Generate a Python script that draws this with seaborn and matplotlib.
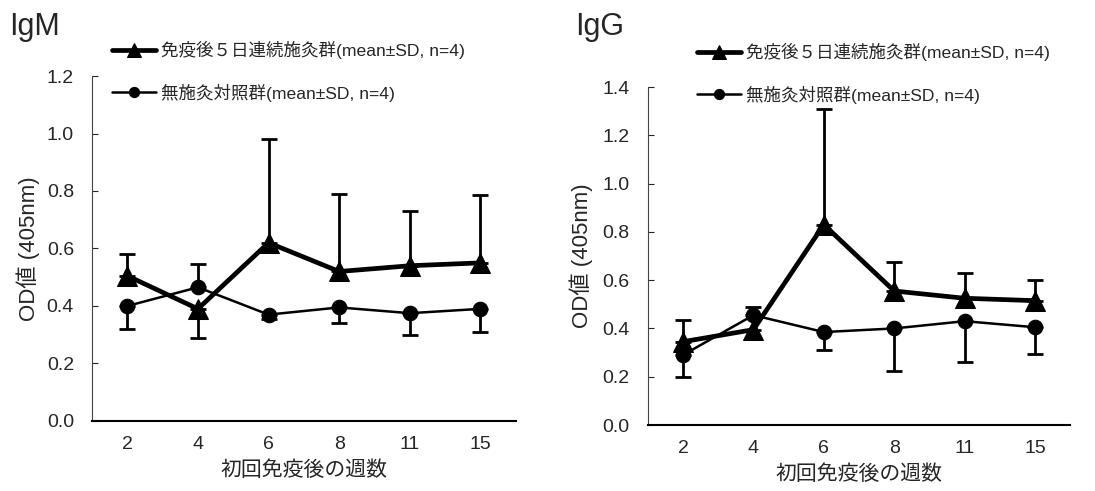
import matplotlib
matplotlib.use("Agg")
import matplotlib.pyplot as plt
import seaborn as sns
import numpy as np
import pandas as pd

sns.set_theme(style="white")
plt.rcParams['font.family'] = ['Liberation Sans', 'Noto Sans CJK JP', 'DejaVu Sans']

weeks = ["2", "4", "6", "8", "11", "15"]
label_treat = "免疫後５日連続施灸群(mean±SD, n=4)"
label_ctrl = "無施灸対照群(mean±SD, n=4)"

igm_treat_mean = [0.505, 0.39, 0.62, 0.52, 0.54, 0.55]
igm_treat_sd = [0.075, 0.10, 0.36, 0.27, 0.19, 0.235]
igm_treat_dir = [1, -1, 1, 1, 1, 1]
igm_ctrl_mean = [0.40, 0.465, 0.37, 0.395, 0.375, 0.39]
igm_ctrl_sd = [0.08, 0.08, 0.015, 0.055, 0.075, 0.08]
igm_ctrl_dir = [-1, 1, -1, -1, -1, -1]

igg_treat_mean = [0.345, 0.395, 0.83, 0.555, 0.525, 0.515]
igg_treat_sd = [0.09, 0.04, 0.48, 0.12, 0.105, 0.085]
igg_treat_dir = [1, -1, 1, 1, 1, 1]
igg_ctrl_mean = [0.29, 0.455, 0.385, 0.40, 0.43, 0.405]
igg_ctrl_sd = [0.09, 0.035, 0.075, 0.175, 0.17, 0.11]
igg_ctrl_dir = [-1, 1, -1, -1, -1, -1]

fig = plt.figure(figsize=(10.95, 4.91), dpi=100)

panels = [
    dict(title="IgM", rect=[0.084, 0.1426, 0.387, 0.7026], ymax=1.2,
         tm=igm_treat_mean, ts=igm_treat_sd, td=igm_treat_dir,
         cm=igm_ctrl_mean, cs=igm_ctrl_sd, cd=igm_ctrl_dir,
         title_xy=(9 / 1095, 1 - 35 / 491), leg_xy=(112 / 1095, 1 - 41 / 491),
         ylab_x=-0.123),
    dict(title="IgG", rect=[0.5916, 0.1344, 0.3858, 0.6884], ymax=1.4,
         tm=igg_treat_mean, ts=igg_treat_sd, td=igg_treat_dir,
         cm=igg_ctrl_mean, cs=igg_ctrl_sd, cd=igg_ctrl_dir,
         title_xy=(575 / 1095, 1 - 35 / 491), leg_xy=(697 / 1095, 1 - 43 / 491),
         ylab_x=-0.130),
]

pos = np.arange(len(weeks))

for p in panels:
    ax = fig.add_axes(p["rect"])
    df = pd.DataFrame({"pos": pos, "treat": p["tm"], "ctrl": p["cm"]})

    for col, sd, d in [("treat", p["ts"], p["td"]), ("ctrl", p["cs"], p["cd"])]:
        sd = np.array(sd)
        d = np.array(d)
        lower = np.where(d < 0, sd, 0)
        upper = np.where(d > 0, sd, 0)
        ax.errorbar(df["pos"], df[col], yerr=[lower, upper], fmt="none",
                    ecolor="black", elinewidth=2.0, capsize=6, capthick=2.0, zorder=2)

    sns.lineplot(data=df, x="pos", y="treat", ax=ax, color="black", linewidth=3.4,
                 marker="^", markersize=14, markeredgecolor="black",
                 label=label_treat, zorder=3)
    sns.lineplot(data=df, x="pos", y="ctrl", ax=ax, color="black", linewidth=1.8,
                 marker="o", markersize=10.5, markeredgecolor="black",
                 label=label_ctrl, zorder=3)

    ax.set_xlim(-0.5, len(weeks) - 0.5)
    ax.set_ylim(0, p["ymax"])
    ax.set_xticks(pos)
    ax.set_xticklabels(weeks)
    yt = np.arange(0, p["ymax"] + 0.001, 0.2)
    ax.set_yticks(yt)
    ax.set_yticklabels([f"{v:.1f}" for v in yt])
    ax.tick_params(axis="x", length=0, pad=11, labelsize=14)
    ax.tick_params(axis="y", direction="in", length=4, width=0.8, pad=13, labelsize=14,
                   left=True)
    for s in ["top", "right"]:
        ax.spines[s].set_visible(False)
    ax.spines["left"].set_color("#444444")
    ax.spines["left"].set_linewidth(0.8)
    ax.spines["bottom"].set_color("black")
    ax.spines["bottom"].set_linewidth(1.5)
    ax.set_facecolor("white")
    ax.set_xlabel("初回免疫後の週数", fontsize=15, labelpad=5)
    ax.set_ylabel("OD値 (405nm)", fontsize=16)
    ax.yaxis.set_label_coords(p["ylab_x"], 0.5)

    ax.legend(loc="upper left", bbox_to_anchor=p["leg_xy"],
              bbox_transform=fig.transFigure, frameon=False, fontsize=12.6,
              handlelength=2.5, handletextpad=0.3, labelspacing=1.4,
              borderpad=0, borderaxespad=0, markerscale=0.7)
    fig.text(p["title_xy"][0], p["title_xy"][1], p["title"], fontsize=22,
             ha="left", va="baseline")

fig.savefig("out.png", dpi=100, facecolor="white")
